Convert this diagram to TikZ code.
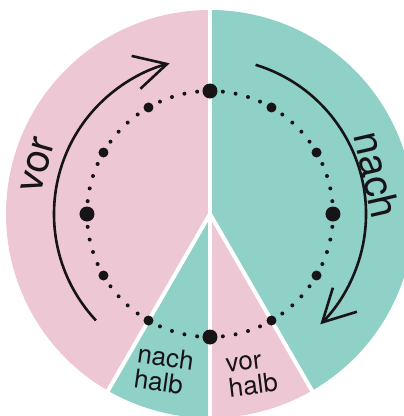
\documentclass[tikz,border=0pt]{standalone}
\usepackage{fontspec}
\setmainfont{TeX Gyre Heros}
\usetikzlibrary{arrows.meta}
\definecolor{clkpink}{RGB}{238,199,213}
\definecolor{clkteal}{RGB}{143,208,199}
\definecolor{clkink}{RGB}{22,20,22}
\tikzset{
  vorsec/.style={fill=clkpink},
  nachsec/.style={fill=clkteal},
  gap/.style={draw=white, line width=4pt},
  dirarr/.style={-{Straight Barb[length=32pt,width=34pt]}, clkink, line width=2.6pt},
  bigword/.style={font=\fontsize{40}{40}\selectfont, text=clkink, inner sep=0pt},
  halfword/.style={font=\fontsize{26}{25}\selectfont, text=clkink, align=left, inner sep=0pt},
  mdot/.style={circle, fill=clkink, inner sep=0pt},
}

\begin{document}
\begin{tikzpicture}[x=1pt, y=1pt]
    \def\Rout{204} \def\Rclk{123} \def\Rarr{156}
    \clip (-210,-202) rectangle (194,214);
    % the two halves and the half-hour wedge
    \fill[vorsec] (0,0) -- (90:\Rout) arc[start angle=90, end angle=240, radius=\Rout] -- cycle;
    \fill[nachsec] (0,0) -- (-60:\Rout) arc[start angle=-60, end angle=90, radius=\Rout] -- cycle;
    \fill[nachsec] (0,0) -- (240:\Rout) arc[start angle=240, end angle=270, radius=\Rout] -- cycle;
    \fill[vorsec] (0,0) -- (270:\Rout) arc[start angle=270, end angle=300, radius=\Rout] -- cycle;
    \draw[gap] (90:\Rout+10) -- (270:\Rout+10);
    \draw[gap] (0,0) -- (240:\Rout+10);
    \draw[gap] (0,0) -- (300:\Rout+10);
    % clock face
    \foreach \k in {0,...,59}{
      \pgfmathsetmacro\dsize{mod(\k,15)==0 ? 15 : (mod(\k,5)==0 ? 10 : 4)}
      \node[mdot, minimum size=\dsize pt] (d\k) at ({90-6*\k}:\Rclk) {};
    }
    % direction arrows
    \draw[dirarr] (223:\Rarr) arc[start angle=223, end angle=105, radius=\Rarr];
    \draw[dirarr] (73:\Rarr) arc[start angle=73, end angle=-45, radius=\Rarr];
    \node[bigword, rotate=74] (vor) at (-172,49) {vor};
    \node[bigword, rotate=-77] (nach) at (167,39) {nach};
    \node[halfword, rotate=-8] (nachhalb) at (-46,-156) {nach\\halb};
    \node[halfword, rotate=7] (vorhalb) at (42,-161) {vor\\halb};
  \end{tikzpicture}
\end{document}
